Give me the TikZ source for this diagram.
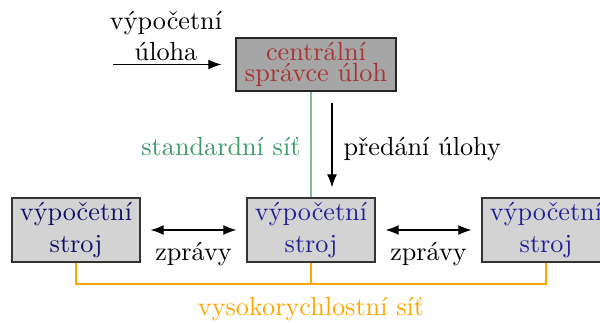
\documentclass[tikz,border=0pt]{standalone}
\usetikzlibrary{arrows.meta,calc}
\definecolor{managerfill}{RGB}{166,166,166}
\definecolor{machinefill}{RGB}{211,211,211}
\definecolor{managertext}{RGB}{168,52,52}
\definecolor{machinetext}{RGB}{32,32,150}
\definecolor{machinetextdark}{RGB}{14,14,100}
\definecolor{nettext}{RGB}{60,155,105}
\definecolor{netline}{RGB}{125,190,155}
\definecolor{bus}{RGB}{255,165,0}
\begin{document}
\begin{tikzpicture}[x=0.3817pt,y=-0.3817pt,
  manager/.style={draw=black!85, line width=0.5pt, fill=managerfill,
    text=managertext, minimum width=61.07pt, minimum height=20.23pt,
    inner sep=0pt, align=center},
  machine/.style={draw=black!80, line width=0.5pt, fill=machinefill,
    text=machinetext, minimum width=48.86pt, minimum height=24.43pt,
    inner sep=0pt, align=center},
  sidelabel/.style={inner sep=0pt},
  tip/.style={line width=0.45pt, -{Latex[length=5pt,width=3.8pt]}},
  twotip/.style={line width=0.45pt, {Latex[length=5pt,width=3.8pt]}-{Latex[length=5pt,width=3.8pt]}},
  busline/.style={draw=bus, line width=0.8pt},
  stdline/.style={draw=netline, line width=0.6pt}]
\useasboundingbox (0,0) rectangle (600,322);
\clip (0,0) rectangle (600,322);

% task manager and the three machines
\node[manager] (central) at (316,64.5) {centrální\\[-4pt]správce úloh};
\node[machine, text=machinetextdark] (left) at (76,230) {výpočetní\\stroj};
\node[machine] (mid) at (311,230) {výpočetní\\stroj};
\node[machine] (right) at (546,230) {výpočetní\\stroj};

% incoming task
\coordinate (taskin) at (113,64.5);
\draw[tip, shorten >=5.3pt] (taskin) -- (central.west);
\node[align=center] (tasklabel) at (166,36) {výpočetní\\úloha};

% standard network and task hand-over
\draw[stdline] (mid.north) -- (mid.north |- central.south);
\node[sidelabel, text=nettext, anchor=base east] (stdlabel) at (301,155) {standardní síť};
\draw[tip] ($(central.south)+(16,11)$) -- ($(mid.north)+(21,-10)$);
\node[sidelabel, anchor=base west] (handlabel) at (343,155) {předání úlohy};

% messages between machines
\draw[twotip, shorten <=3.8pt, shorten >=3.8pt] (left.east) -- (mid.west);
\node[anchor=base] (msg1) at ($(left.east)!.5!(mid.west)+(0,30)$) {zprávy};
\draw[twotip, shorten <=3.8pt, shorten >=3.8pt] (mid.east) -- (right.west);
\node[anchor=base] (msg2) at ($(mid.east)!.5!(right.west)+(0,30)$) {zprávy};

% high-speed network bus
\draw[busline] (left.south) -- ($(left.south)+(0,21)$) -| (right.south);
\draw[busline] (mid.south) -- ($(mid.south)+(0,21)$);
\node[text=bus, anchor=base] (buslabel) at (311,315) {vysokorychlostní síť};
\end{tikzpicture}
\end{document}
